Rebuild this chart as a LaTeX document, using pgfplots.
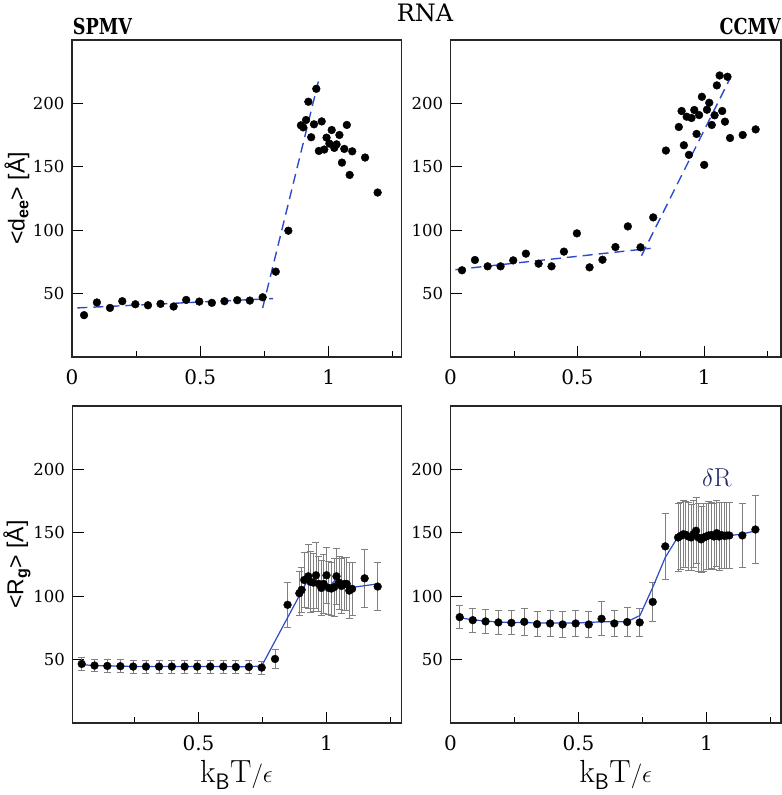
\documentclass[border=0pt]{standalone}
\usepackage{graphicx}
\usepackage{pgfplots}
\pgfplotsset{compat=1.18}
\usepackage{fontspec}
\newfontfamily\dvs{DejaVu Serif}
\newfontfamily\lsans{Liberation Sans}
\definecolor{lineblue}{RGB}{45,75,200}
\definecolor{navy}{RGB}{30,40,100}
\begin{document}
\begin{tikzpicture}
\useasboundingbox (0bp,0bp) rectangle (782bp,795bp);
\pgfplotsset{
 panel/.style={
  scale only axis, anchor=south west, height=317bp,
  ymin=0, ymax=250, ytick={50,100,150,200},
  xtick={0,0.5,1}, minor xtick={0.25,0.75,1.25},
  tick align=inside, xtick pos=left, ytick pos=left,
  major tick length=11bp, minor tick length=6bp,
  tick style={black, line width=0.9bp},
  axis line style={black!85, line width=1.1bp},
  /pgf/number format/assume math mode=true,
  yticklabel style={font=\dvs\fontsize{16.5bp}{19bp}\selectfont, xshift=-4bp},
  xticklabel style={font=\dvs\fontsize{20bp}{23bp}\selectfont, yshift=-9bp},
  scaled ticks=false,
 },
 dots/.style={only marks, mark=*, mark size=3.9bp, black},
 fitline/.style={lineblue, line width=1.4bp, dash pattern=on 10bp off 6bp, no marks},
 ebars/.style={dots, error bars/.cd, y dir=both, y explicit,
   error mark=-,
   error bar style={black!50, line width=0.8bp},
   error mark options={rotate=90, black!50, line width=0.8bp, mark size=3.5bp}},
}
% ---------------- top left: SPMV d_ee
\begin{axis}[panel, at={(72bp,438bp)}, width=329.5bp, xmin=0, xmax=1.284]
\addplot[dots] coordinates {(0.047,33.0)(0.097,43.0)(0.148,38.7)(0.196,44.0)(0.247,41.6)(0.296,40.8)(0.345,41.9)(0.396,39.8)(0.445,45.0)(0.496,43.7)(0.545,42.7)(0.594,44.0)(0.644,44.8)(0.693,44.5)(0.743,47.1)(0.794,67.3)(0.843,99.6)(0.892,182.7)(0.901,181.1)(0.912,186.9)(0.921,201.3)(0.932,173.3)(0.943,183.5)(0.952,211.5)(0.962,162.5)(0.973,185.8)(0.983,163.6)(0.992,173.0)(1.003,168.3)(1.012,179.0)(1.022,164.9)(1.031,167.7)(1.042,175.1)(1.052,153.3)(1.061,164.1)(1.071,183.0)(1.082,143.6)(1.092,162.2)(1.142,157.3)(1.191,129.7)};
\addplot[fitline] coordinates {(0.021,38.7)(0.784,46.1)};
\addplot[fitline] coordinates {(0.743,38.7)(0.960,217.3)};
\end{axis}
% ---------------- top right: CCMV d_ee
\begin{axis}[panel, at={(450.6bp,438bp)}, width=330.4bp, xmin=0, xmax=1.303]
\addplot[dots] coordinates {(0.045,68.4)(0.096,76.5)(0.146,71.5)(0.197,71.5)(0.247,76.2)(0.297,81.5)(0.347,73.6)(0.398,71.5)(0.447,83.1)(0.498,97.5)(0.548,70.7)(0.599,76.7)(0.650,86.7)(0.699,103.0)(0.749,86.5)(0.799,110.1)(0.849,162.8)(0.900,181.4)(0.911,194.0)(0.920,167.0)(0.931,189.5)(0.940,159.4)(0.950,188.5)(0.961,194.8)(0.970,175.9)(0.980,190.8)(0.991,205.2)(1.000,151.5)(1.011,195.0)(1.020,200.5)(1.030,183.0)(1.041,190.6)(1.050,214.2)(1.061,222.0)(1.071,194.0)(1.082,185.6)(1.092,221.0)(1.102,172.7)(1.152,175.1)(1.203,179.5)};
\addplot[fitline] coordinates {(0.019,68.9)(0.789,85.7)};
\addplot[fitline] coordinates {(0.753,79.9)(1.102,219.7)};
\end{axis}
% ---------------- bottom left: SPMV R_g
\begin{axis}[panel, at={(72.5bp,72bp)}, width=329bp, xmin=0.008, xmax=1.293, xtick={0.5,1}]
\addplot[ebars] table[x index=0, y index=1, y error index=2] {
0.044 46.6 5
0.094 45.3 5
0.144 45.0 5
0.195 44.8 5
0.245 44.5 5
0.295 44.5 5
0.346 44.5 5
0.396 44.5 5
0.446 44.5 5
0.495 44.5 5
0.546 44.5 5
0.597 44.5 5
0.646 44.2 5
0.697 44.2 5
0.747 43.7 5
0.799 50.5 7.5
0.848 93.2 18
0.894 102.3 17.5
0.903 105.0 18
0.913 112.8 22
0.929 115.7 25
0.938 111.3 24
0.949 110.7 23
0.959 116.5 26
0.970 109.7 22
0.980 106.5 22
0.989 109.7 23
1.000 116.5 22
1.009 106.5 21
1.019 106.0 21
1.030 107.1 23
1.039 115.7 22
1.049 110.7 21
1.059 108.1 22
1.070 109.7 21
1.079 109.7 21
1.089 104.4 22
1.100 105.8 21
1.149 114.1 23
1.200 107.6 19
};
\addplot[lineblue, line width=1.2bp, no marks] coordinates {(0.044,46.0)(0.094,45.3)(0.144,45.0)(0.195,44.8)(0.245,44.6)(0.295,44.5)(0.396,44.5)(0.495,44.5)(0.597,44.5)(0.697,44.4)(0.747,45.0)(0.929,113.6)(0.945,112.3)(0.96,111.0)(0.98,110.2)(0.999,108.4)(1.012,107.6)(1.032,112.3)(1.051,110.2)(1.084,106.5)(1.2,109.7)};
\end{axis}
% ---------------- bottom right: CCMV R_g
\begin{axis}[panel, at={(450.5bp,72bp)}, width=330.5bp, xmin=0, xmax=1.291]
\addplot[ebars] table[x index=0, y index=1, y error index=2] {
0.036 83.5 9.2
0.087 81.1 9.5
0.137 80.1 9.5
0.187 79.3 9.5
0.238 79.0 9.5
0.288 79.8 10.5
0.338 78.0 10
0.389 78.5 10
0.438 77.7 10
0.489 78.5 10.5
0.540 77.7 10
0.590 82.2 13.5
0.640 78.5 10.5
0.690 79.6 11.5
0.739 79.3 11
0.790 95.5 15
0.839 139.3 26
0.889 146.3 26.5
0.899 147.6 26.5
0.910 148.9 26.5
0.919 148.4 26
0.929 147.1 26.5
0.940 146.3 26
0.949 148.9 26.5
0.959 151.6 26
0.968 146.3 26.5
0.979 144.8 26
0.989 146.3 26.5
0.999 147.1 26
1.008 147.9 26.5
1.019 148.2 26
1.029 147.1 26
1.040 149.7 26
1.049 147.1 26.5
1.059 148.2 26
1.070 147.6 26
1.079 147.9 26
1.089 147.9 26
1.140 147.9 25
1.191 152.6 27
};
\addplot[lineblue, line width=1.2bp, no marks] coordinates {(0.036,83.0)(0.087,81.4)(0.137,80.4)(0.187,79.6)(0.300,79.0)(0.489,78.8)(0.540,79.3)(0.589,79.8)(0.689,79.8)(0.740,84.8)(0.790,107.0)(0.839,130.6)(0.883,145.0)(0.910,148.9)(0.929,148.4)(0.949,149.5)(0.968,146.3)(0.981,145.0)(1.001,146.9)(1.040,147.6)(1.092,147.9)(1.140,149.0)(1.191,151.6)};
\node[text=navy, font=\fontsize{26bp}{30bp}\selectfont] at (axis cs:1.04,193.5) {$\delta$R};
\end{axis}
% ---------------- labels
\node[anchor=base, font=\dvs\fontsize{24bp}{28bp}\selectfont] at (425bp,773bp) {RNA};
\node[anchor=base west, inner sep=0pt, font=\dvs\bfseries\fontsize{22bp}{26bp}\selectfont] at (72.7bp,760.7bp) {\scalebox{0.8}[1]{SPMV}};
\node[anchor=base east, inner sep=0pt, font=\dvs\bfseries\fontsize{22bp}{26bp}\selectfont] at (781bp,760.7bp) {\scalebox{0.8}[1]{CCMV}};
\node[rotate=90, font=\lsans\fontsize{23bp}{27bp}\selectfont] at (17bp,596.5bp) {<d\textsubscript{\bfseries ee}> [Å]};
\node[rotate=90, font=\lsans\fontsize{23bp}{27bp}\selectfont] at (17bp,230.5bp) {<R\textsubscript{\bfseries g}> [Å]};
\node[anchor=base, font=\fontsize{32bp}{36bp}\selectfont] at (236.5bp,13bp) {$\mathrm{k_{\mathsf{B}}T}/\epsilon$};
\node[anchor=base, font=\fontsize{32bp}{36bp}\selectfont] at (615.7bp,13bp) {$\mathrm{k_{\mathsf{B}}T}/\epsilon$};
\end{tikzpicture}
\end{document}
